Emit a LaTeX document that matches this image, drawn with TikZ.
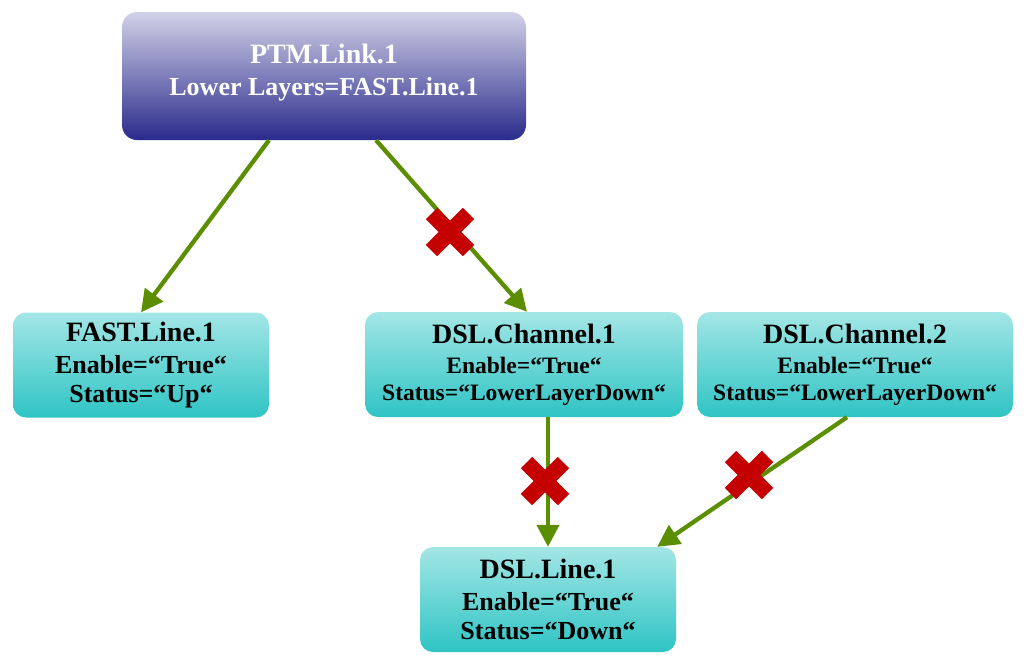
\documentclass[tikz,border=0pt]{standalone}
\usepackage{fontspec}
\setmainfont{Liberation Serif}
\usetikzlibrary{shapes.misc,arrows.meta}
\definecolor{linkgreen}{RGB}{91,142,0}
\definecolor{nogored}{RGB}{196,0,0}
\definecolor{tealtop}{RGB}{164,230,230}
\definecolor{tealbot}{RGB}{47,196,196}
\definecolor{navytop}{RGB}{210,210,232}
\definecolor{navybot}{RGB}{42,42,140}
\tikzstyle{obj}=[rectangle, rounded corners=13pt, top color=tealtop, bottom color=tealbot, minimum height=105pt, inner sep=0pt, align=center, font=\bfseries\fontsize{26}{29}\selectfont]
\tikzstyle{link}=[draw=linkgreen, line width=4.3pt, -{Triangle[length=22pt,width=22pt]}]
\tikzstyle{nogo}=[cross out, draw=nogored, line width=16pt, line cap=butt, minimum size=37pt, inner sep=0pt, outer sep=0pt]

\begin{document}
\begin{tikzpicture}[x=1pt, y=-1pt]
\useasboundingbox (0,0) rectangle (1027,665);
% Objects
    \node[obj, rounded corners=15pt, top color=navytop, bottom color=navybot, text=white, minimum width=404pt, minimum height=128pt, text depth=12pt, font=\bfseries\fontsize{26}{32}\selectfont] (ptm) at (324,76) {{\fontsize{28}{32}\selectfont PTM.Link.1}\\Lower Layers=FAST.Line.1};
    \node[obj, minimum width=256pt] (fast) at (141,365) {{\fontsize{28}{30}\selectfont FAST.Line.1}\\[3pt]Enable=“True“\\Status=“Up“};
    \node[obj, minimum width=318pt, font=\bfseries\fontsize{23.5}{27}\selectfont] (dsl1) at (524,364.5) {{\fontsize{28}{30}\selectfont DSL.Channel.1}\\[3pt]Enable=“True“\\Status=“LowerLayerDown“};
    \node[obj, minimum width=316pt, font=\bfseries\fontsize{23.5}{27}\selectfont] (dsl2) at (855,364.5) {{\fontsize{28}{30}\selectfont DSL.Channel.2}\\[3pt]Enable=“True“\\Status=“LowerLayerDown“};
    \node[obj, minimum width=256pt] (dslline) at (548,599.5) {{\fontsize{28}{30}\selectfont DSL.Line.1}\\[3pt]Enable=“True“\\Status=“Down“};
% Lower layer links
    \draw[link] ([xshift=-55pt]ptm.south) -- (fast.north);
    \draw[link] ([xshift=52pt]ptm.south) -- ([xshift=3pt]dsl1.north);
    \draw[link] ([xshift=24pt]dsl1.south) -- (dslline.north);
    \draw[link] ([xshift=-8pt]dsl2.south) -- ([xshift=-19pt]dslline.north east);
% Broken links
    \node[nogo] (cut1) at (450,232) {};
    \node[nogo] (cut2) at (545,481) {};
    \node[nogo] (cut3) at (749,475) {};
\end{tikzpicture}
\end{document}
